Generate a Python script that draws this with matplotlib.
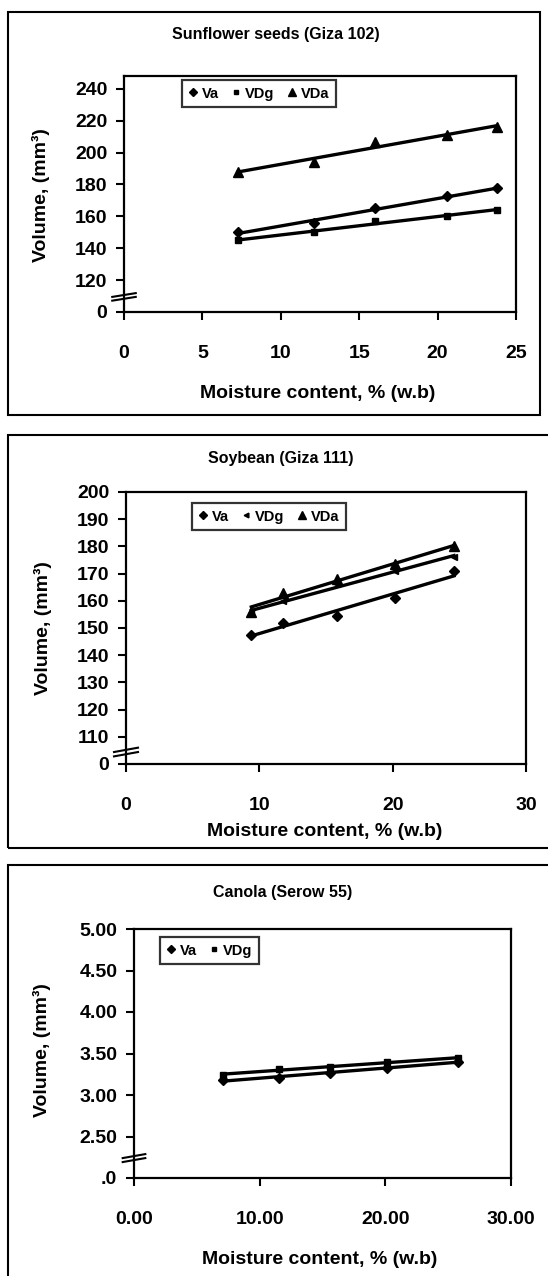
import numpy as np
import matplotlib
matplotlib.use('Agg')
from matplotlib import pyplot as plt
from matplotlib.patches import Rectangle

plt.rcParams['font.family'] = ['Liberation Sans', 'DejaVu Sans']
plt.rcParams['font.weight'] = 'bold'

W, H = 548, 1276

# ---- data ----
# sunflower seeds (Giza 102)
sf_x = [7.3, 12.1, 16.0, 20.6, 23.8]
sf_va = [150, 156, 165, 172.5, 177.5]
sf_vdg = [145, 150, 157, 160, 164]
sf_vda = [188, 194, 206.5, 211, 216]
sf_yticks = [100, 120, 140, 160, 180, 200, 220, 240]
sf_ylabels = ['0', '120', '140', '160', '180', '200', '220', '240']
sf_xticks = [0, 5, 10, 15, 20, 25]
sf_xlabels = ['0', '5', '10', '15', '20', '25']

# soybean (Giza 111)
sb_x = [9.4, 11.8, 15.8, 20.2, 24.6]
sb_va = [147.5, 152, 154.5, 161, 171]
sb_vdg = [155.5, 160, 166, 171, 176]
sb_vda = [156, 163, 168, 173.5, 180]
sb_yticks = [100, 110, 120, 130, 140, 150, 160, 170, 180, 190, 200]
sb_ylabels = ['0', '110', '120', '130', '140', '150', '160', '170', '180', '190', '200']
sb_xticks = [0, 10, 20, 30]
sb_xlabels = ['0', '10', '20', '30']

# canola (Serow 55)
cn_x = [7.1, 11.5, 15.6, 20.1, 25.8]
cn_va = [3.18, 3.21, 3.26, 3.33, 3.40]
cn_vdg = [3.24, 3.31, 3.34, 3.40, 3.44]
cn_yticks = [2.0, 2.5, 3.0, 3.5, 4.0, 4.5, 5.0]
cn_ylabels = ['.0', '2.50', '3.00', '3.50', '4.00', '4.50', '5.00']
cn_xticks = [0, 10, 20, 30]
cn_xlabels = ['0.00', '10.00', '20.00', '30.00']

fig = plt.figure(figsize=(W / 100, H / 100), dpi=100)


def px_axes(l, r, t, b):
    return fig.add_axes([l / W, 1 - b / H, (r - l) / W, (b - t) / H])


def frame(l, r, t, b):
    fig.patches.append(Rectangle((l / W, 1 - b / H), (r - l) / W, (b - t) / H,
                                 transform=fig.transFigure, fill=False,
                                 edgecolor='black', linewidth=1.5))


def trend(ax, x, y):
    z = np.polyfit(x, y, 1)
    p = np.poly1d(z)
    xx = np.array([min(x), max(x)])
    ax.plot(xx, p(xx), color='black', linewidth=2.4, zorder=2)


def style_axes(ax, yt, yl, xt, xl, ylim, xlim, brk_y, tick_fs):
    ax.set_ylim(ylim)
    ax.set_xlim(xlim)
    ax.set_yticks(yt)
    ax.set_yticklabels(yl, fontsize=tick_fs, fontweight='bold')
    ax.set_xticks(xt)
    ax.set_xticklabels(xl, fontsize=tick_fs, fontweight='bold')
    ax.tick_params(axis='y', direction='out', length=6, width=1.5, pad=6)
    ax.tick_params(axis='x', direction='out', length=6, width=1.5, pad=18)
    for s in ax.spines.values():
        s.set_linewidth(1.6)
    # axis break marks
    for dy in (-0.008, 0.008):
        ax.plot([-0.03, 0.03], [brk_y + dy - 0.008, brk_y + dy + 0.008],
                transform=ax.transAxes, color='black', linewidth=1.5, clip_on=False)


def legend(ax, bbox, ncol):
    leg = ax.legend(loc='upper left', bbox_to_anchor=bbox, ncol=ncol, frameon=True,
                    fancybox=False, edgecolor='black', fontsize=10.5, handlelength=0.6,
                    handletextpad=0.3, columnspacing=0.9, borderpad=0.45,
                    borderaxespad=0, markerscale=0.85)
    leg.get_frame().set_linewidth(1.6)
    for t in leg.get_texts():
        t.set_fontweight('bold')


ylab = 'Volume, (mm³)'
xlab = 'Moisture content, % (w.b)'

# ---- panel 1 ----
frame(8, 540, 12, 415)
ax1 = px_axes(124, 516, 76, 312)
ax1.plot(sf_x, sf_va, 'D', color='black', markersize=5, label='Va')
ax1.plot(sf_x, sf_vdg, 's', color='black', markersize=4, label='VDg')
ax1.plot(sf_x, sf_vda, '^', color='black', markersize=6.5, label='VDa')
trend(ax1, sf_x, sf_va)
trend(ax1, sf_x, sf_vdg)
trend(ax1, sf_x, sf_vda)
style_axes(ax1, sf_yticks, sf_ylabels, sf_xticks, sf_xlabels, (100, 248), (0, 25), 0.064, 14)
legend(ax1, ((182 - 124) / 392, (312 - 80) / 236), 3)
fig.text(276 / W, 1 - 35 / H, 'Sunflower seeds (Giza 102)', ha='center', va='center',
         fontsize=11.5, fontweight='bold')
fig.text(318 / W, 1 - 393 / H, xlab, ha='center', va='center', fontsize=14, fontweight='bold')
fig.text(41 / W, 1 - 195 / H, ylab, ha='center', va='center', rotation=90,
         fontsize=14, fontweight='bold')

# ---- panel 2 ----
frame(8, 600, 435, 848)
ax2 = px_axes(126, 526, 492, 764)
ax2.plot(sb_x, sb_va, 'D', color='black', markersize=5, label='Va')
ax2.plot(sb_x, sb_vdg, '<', color='black', markersize=4, label='VDg')
ax2.plot(sb_x, sb_vda, '^', color='black', markersize=6.5, label='VDa')
trend(ax2, sb_x, sb_va)
trend(ax2, sb_x, sb_vdg)
trend(ax2, sb_x, sb_vda)
style_axes(ax2, sb_yticks, sb_ylabels, sb_xticks, sb_xlabels, (100, 200), (0, 30), 0.044, 14)
legend(ax2, ((192 - 126) / 400, (764 - 503) / 272), 3)
fig.text(281 / W, 1 - 459 / H, 'Soybean (Giza 111)', ha='center', va='center',
         fontsize=11.5, fontweight='bold')
fig.text(325 / W, 1 - 832 / H, xlab, ha='center', va='center', fontsize=14, fontweight='bold')
fig.text(43 / W, 1 - 628 / H, ylab, ha='center', va='center', rotation=90,
         fontsize=14, fontweight='bold')

# ---- panel 3 ----
frame(8, 600, 865, 1290)
ax3 = px_axes(134, 511, 929, 1178)
ax3.plot(cn_x, cn_va, 'D', color='black', markersize=5, label='Va')
ax3.plot(cn_x, cn_vdg, 's', color='black', markersize=4, label='VDg')
trend(ax3, cn_x, cn_va)
trend(ax3, cn_x, cn_vdg)
style_axes(ax3, cn_yticks, cn_ylabels, cn_xticks, cn_xlabels, (2.0, 5.0), (0, 30), 0.08, 14)
legend(ax3, ((160 - 134) / 377, (1178 - 937) / 249), 2)
fig.text(283 / W, 1 - 892 / H, 'Canola (Serow 55)', ha='center', va='center',
         fontsize=11.5, fontweight='bold')
fig.text(320 / W, 1 - 1260 / H, xlab, ha='center', va='center', fontsize=14, fontweight='bold')
fig.text(42 / W, 1 - 1050 / H, ylab, ha='center', va='center', rotation=90,
         fontsize=14, fontweight='bold')

fig.savefig('out.png', dpi=100)
